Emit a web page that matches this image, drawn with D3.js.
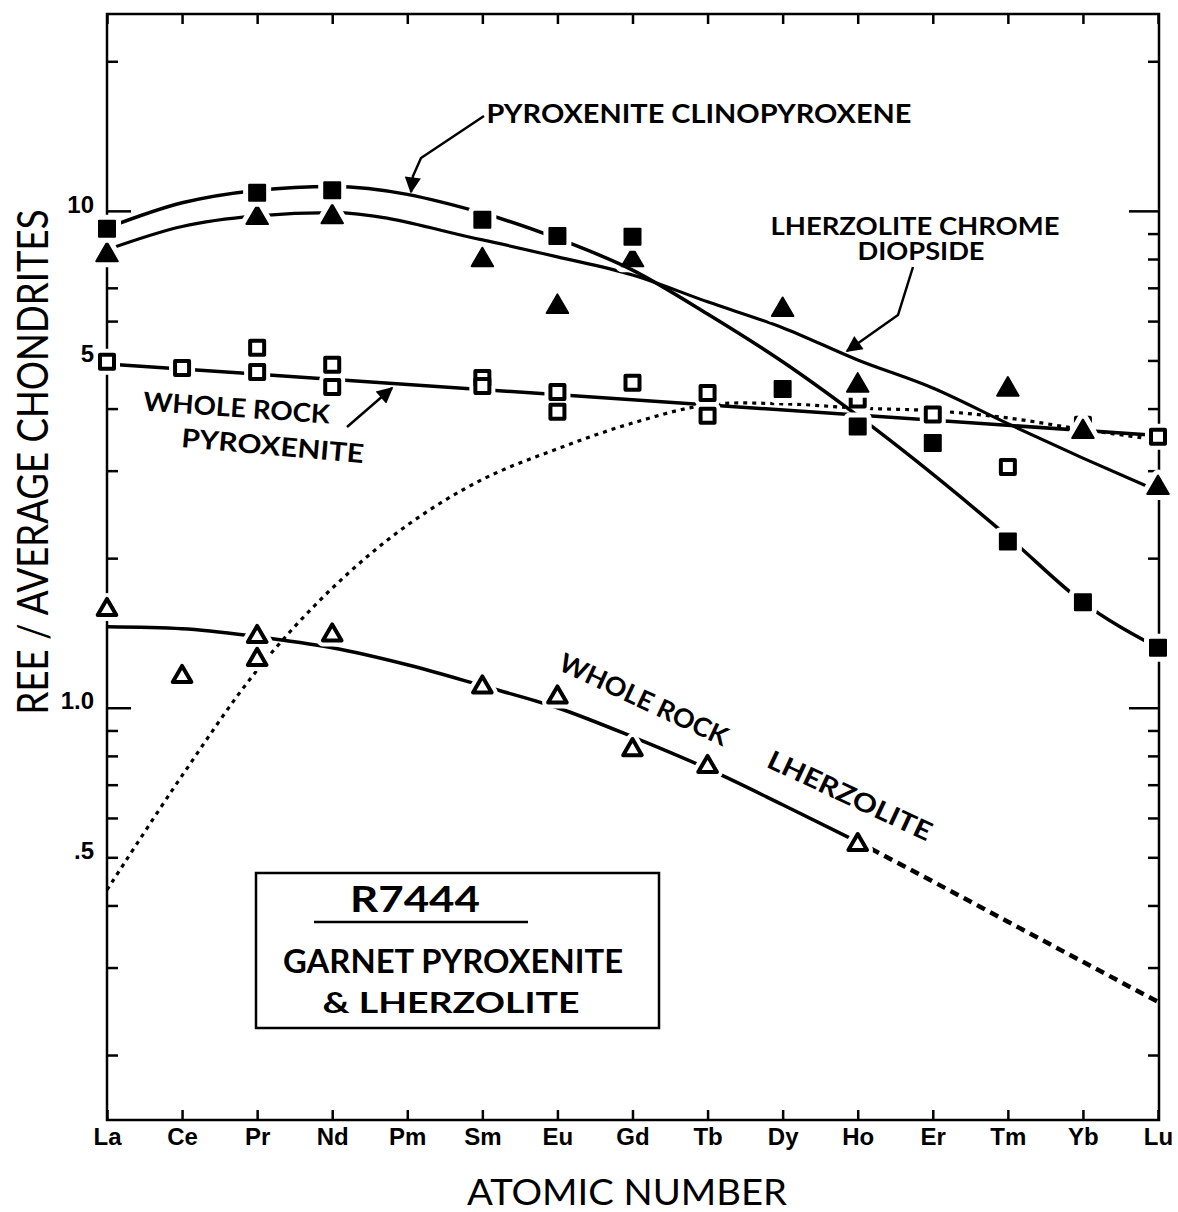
<!DOCTYPE html>
<html>
<head>
<meta charset="utf-8">
<script src="https://cdn.jsdelivr.net/npm/d3@7"></script>
<style>
    body { margin: 0; background: #fff; }
    svg { display: block; font-family: Lato, "DejaVu Sans", sans-serif; }
    .tick line { stroke: #000; stroke-width: 2.5; }
    .tick text { fill: #000; }
</style>
</head>
<body>
<svg width="1178" height="1212"></svg>
<script>
const elements = ["La", "Ce", "Pr", "Nd", "Pm", "Sm", "Eu", "Gd", "Tb", "Dy", "Ho", "Er", "Tm", "Yb", "Lu"];

// y axis ticks (log scale)
const yMinor = [0.2, 0.3, 0.4, 0.5, 0.6, 0.7, 0.8, 0.9, 2, 3, 4, 5, 6, 7, 8, 9, 20];
const yMajor = [1, 10];
const yLabelValues = [10, 5, 1, 0.5];
const yLabelText = ["10", "5", "1.0", ".5"];

// pyroxenite clinopyroxene (filled squares)
const cpxPoints = [["La", 9.2], ["Pr", 10.87], ["Nd", 11.0], ["Sm", 9.6], ["Eu", 8.9], ["Gd", 8.87],
    ["Dy", 4.38], ["Ho", 3.68], ["Er", 3.41], ["Tm", 2.16], ["Yb", 1.63], ["Lu", 1.32]];
const cpxCurve = [["La", 9.24], ["Ce", 10.38], ["Pr", 11.0], ["Nd", 11.2], ["Sm", 9.9], ["Eu", 8.8], ["Gd", 7.6],
    ["Tb", 6.2], ["Dy", 4.97], ["Ho", 3.87], ["Tm", 2.21], ["Yb", 1.63], ["Lu", 1.32]];

// lherzolite chrome diopside (filled triangles)
const lcdPoints = [["La", 8.15], ["Pr", 9.68], ["Nd", 9.72], ["Sm", 7.96], ["Eu", 6.41], ["Gd", 7.96],
    ["Dy", 6.32], ["Ho", 4.45], ["Tm", 4.37], ["Yb", 3.59], ["Lu", 2.77]];
const lcdCurve = [["La", 8.35], ["Ce", 9.3], ["Pr", 9.77], ["Nd", 9.92], ["Sm", 8.74], ["Eu", 8.08], ["Gd", 7.43],
    ["Tb", 6.56], ["Dy", 5.82], ["Ho", 5.01], ["Er", 4.40], ["Tm", 3.73], ["Yb", 3.18], ["Lu", 2.73]];

// whole rock pyroxenite (open squares)
const wrpPoints = [["La", 4.97], ["Ce", 4.83], ["Pr", 5.30], ["Pr", 4.74], ["Nd", 4.90], ["Nd", 4.42],
    ["Sm", 4.61], ["Sm", 4.44], ["Eu", 4.32], ["Eu", 3.94], ["Gd", 4.51], ["Tb", 4.30], ["Tb", 3.87],
    ["Ho", 4.17], ["Er", 3.89], ["Tm", 3.05], ["Yb", 3.71], ["Lu", 3.51]];
const wrpCurve = [["La", 4.92], ["Lu", 3.53]];

// dotted curve
const dotCurve = [["La", 0.43], ["Ce", 0.73], ["Pr", 1.19], ["Nd", 1.74], ["Pm", 2.33], ["Sm", 2.88], ["Eu", 3.32],
    ["Gd", 3.74], ["Tb", 4.07], ["Dy", 4.09], ["Ho", 4.01], ["Er", 3.96], ["Tm", 3.83], ["Yb", 3.63], ["Lu", 3.46]];

// whole rock lherzolite (open triangles)
const wrlPoints = [["La", 1.575], ["Ce", 1.155], ["Pr", 1.39], ["Pr", 1.25], ["Nd", 1.40], ["Sm", 1.10],
    ["Eu", 1.05], ["Gd", 0.823], ["Tb", 0.761], ["Ho", 0.530]];
const wrlCurve = [["La", 1.455], ["Ce", 1.442], ["Pr", 1.39], ["Nd", 1.32], ["Pm", 1.22], ["Sm", 1.107],
    ["Eu", 1.0], ["Gd", 0.874], ["Tb", 0.754], ["Dy", 0.638], ["Ho", 0.537]];
const wrlExtension = [["Ho", 0.537], ["Er", 0.447], ["Tm", 0.371], ["Yb", 0.308], ["Lu", 0.256]];

const svg = d3.select("svg");
const plotLeft = 107, plotRight = 1159, plotTop = 14, plotBottom = 1120;

const x = d3.scalePoint().domain(elements).range([plotLeft, plotRight - 1]);
const y = d3.scaleLog().domain([0.148, 24.9]).range([plotBottom, plotTop]);

const defs = svg.append("defs");
defs.append("marker")
    .attr("id", "head")
    .attr("viewBox", "0 0 10 10")
    .attr("refX", 9).attr("refY", 5)
    .attr("markerWidth", 9).attr("markerHeight", 6.5)
    .attr("markerUnits", "strokeWidth")
    .attr("orient", "auto")
    .append("path")
    .attr("d", "M0,0 L10,5 L0,10 Z")
    .attr("fill", "#000");

// frame
svg.append("rect")
    .attr("x", plotLeft).attr("y", plotTop)
    .attr("width", plotRight - plotLeft).attr("height", plotBottom - plotTop)
    .attr("fill", "none").attr("stroke", "#000").attr("stroke-width", 2.5);

function noDomain(g) {
    g.select(".domain").remove();
}

// y axes, ticks pointing inward
svg.append("g").attr("transform", `translate(${plotLeft},0)`)
    .call(d3.axisLeft(y).tickValues(yMinor).tickSizeInner(-11).tickSizeOuter(0).tickFormat(""))
    .call(noDomain);
svg.append("g").attr("transform", `translate(${plotLeft},0)`)
    .call(d3.axisLeft(y).tickValues(yMajor).tickSizeInner(-24).tickSizeOuter(0).tickFormat(""))
    .call(noDomain);
svg.append("g").attr("transform", `translate(${plotRight},0)`)
    .call(d3.axisRight(y).tickValues(yMinor).tickSizeInner(-11).tickSizeOuter(0).tickFormat(""))
    .call(noDomain);
svg.append("g").attr("transform", `translate(${plotRight},0)`)
    .call(d3.axisRight(y).tickValues(yMajor).tickSizeInner(-30).tickSizeOuter(0).tickFormat(""))
    .call(noDomain);

// y tick labels
svg.append("g").attr("transform", `translate(${plotLeft},0)`)
    .call(d3.axisLeft(y).tickValues(yLabelValues).tickSize(0).tickPadding(13)
        .tickFormat(function (d) {
            return yLabelText[yLabelValues.indexOf(d)];
        }))
    .call(noDomain)
    .selectAll("text")
    .attr("dy", "0.05em")
    .attr("font-size", 24)
    .attr("font-weight", 600);

// x axes
svg.append("g").attr("transform", `translate(0,${plotTop})`)
    .call(d3.axisBottom(x).tickSizeInner(10).tickSizeOuter(0).tickFormat(""))
    .call(noDomain);
svg.append("g").attr("transform", `translate(0,${plotBottom})`)
    .call(d3.axisBottom(x).tickSizeInner(-10).tickSizeOuter(0).tickPadding(8))
    .call(noDomain)
    .selectAll("text")
    .attr("font-size", 24)
    .attr("font-weight", 600);

function linePath(curve) {
    return d3.line()
        .x(function (d) {
            return x(d[0]);
        })
        .y(function (d) {
            return y(d[1]);
        })
        .curve(curve);
}

const plot = svg.append("g");

function drawLine(data, width, dash, curve) {
    plot.append("path")
        .attr("d", linePath(curve || d3.curveMonotoneX)(data))
        .attr("fill", "none")
        .attr("stroke", "#000")
        .attr("stroke-width", width)
        .attr("stroke-dasharray", dash || null);
}

function drawPoints(data, type, size, filled) {
    const sym = d3.symbol().type(type).size(size);
    const g = plot.append("g");
    // white halo breaks the line around each marker
    g.selectAll("path.halo")
        .data(data)
        .enter().append("path")
        .classed("halo", true)
        .attr("d", sym)
        .attr("transform", function (d) {
            return `translate(${x(d[0])},${y(d[1])})`;
        })
        .attr("fill", "#fff")
        .attr("stroke", "#fff")
        .attr("stroke-width", 12)
        .attr("stroke-linejoin", "round");
    g.selectAll("path.mark")
        .data(data)
        .enter().append("path")
        .classed("mark", true)
        .attr("d", sym)
        .attr("transform", function (d) {
            return `translate(${x(d[0])},${y(d[1])})`;
        })
        .attr("fill", filled ? "#000" : "#fff")
        .attr("stroke", "#000")
        .attr("stroke-width", filled ? 2 : 4)
        .attr("stroke-linejoin", "round");
}

drawLine(dotCurve, 3.2, "4 5", d3.curveCatmullRom.alpha(0.5));
drawLine(wrlExtension, 4.5, "9 6");
drawLine(wrlCurve, 3.5);
drawPoints(wrlPoints, d3.symbolTriangle, 150, false);
drawLine(wrpCurve, 3.5);
drawPoints(wrpPoints, d3.symbolSquare, 196, false);
drawLine(lcdCurve, 3.2);
drawPoints(lcdPoints, d3.symbolTriangle, 200, true);
drawLine(cpxCurve, 3.5);
drawPoints(cpxPoints, d3.symbolSquare, 256, true);

// annotations
const notes = svg.append("g")
    .attr("font-weight", 700)
    .attr("fill", "#000");

function note(str, cx, cy, size, len, angle) {
    notes.append("text")
        .attr("transform", `translate(${cx},${cy}) rotate(${angle || 0})`)
        .attr("text-anchor", "middle")
        .attr("font-size", size)
        .attr("textLength", len)
        .attr("lengthAdjust", "spacingAndGlyphs")
        .text(str);
}

note("PYROXENITE CLINOPYROXENE", 699, 123, 27, 425);
note("LHERZOLITE CHROME", 915, 235, 25, 289);
note("DIOPSIDE", 921, 260, 25, 127);
note("WHOLE ROCK", 236, 417, 26, 187, 4);
note("PYROXENITE", 272, 455, 26, 183, 5);
note("WHOLE ROCK", 640, 708, 26, 183, 25);
note("LHERZOLITE", 846, 804, 26, 178, 25);

function arrow(points) {
    svg.append("path")
        .attr("d", d3.line()(points))
        .attr("fill", "none")
        .attr("stroke", "#000")
        .attr("stroke-width", 2.5)
        .attr("marker-end", "url(#head)");
}

arrow([[484, 116], [421, 158], [413, 176], [411, 192]]);
arrow([[913, 267], [898, 315], [847, 351]]);
arrow([[347, 427], [392, 388]]);

// sample box
svg.append("rect")
    .attr("x", 256).attr("y", 873)
    .attr("width", 403).attr("height", 155)
    .attr("fill", "none").attr("stroke", "#000").attr("stroke-width", 2.5);
note("R7444", 415, 912, 36, 130);
svg.append("line")
    .attr("x1", 314).attr("x2", 528)
    .attr("y1", 922).attr("y2", 922)
    .attr("stroke", "#000").attr("stroke-width", 2.5);
note("GARNET PYROXENITE", 453, 973, 32, 340);
note("& LHERZOLITE", 451, 1013, 29, 257);

// axis titles
svg.append("text")
    .attr("x", 627).attr("y", 1205)
    .attr("text-anchor", "middle")
    .attr("font-size", 36)
    .attr("textLength", 320)
    .attr("lengthAdjust", "spacingAndGlyphs")
    .text("ATOMIC NUMBER");

svg.append("text")
    .attr("transform", "translate(48,462) rotate(-90)")
    .attr("text-anchor", "middle")
    .attr("font-size", 42)
    .attr("textLength", 505)
    .attr("lengthAdjust", "spacingAndGlyphs")
    .text("REE / AVERAGE CHONDRITES");
</script>
</body>
</html>
